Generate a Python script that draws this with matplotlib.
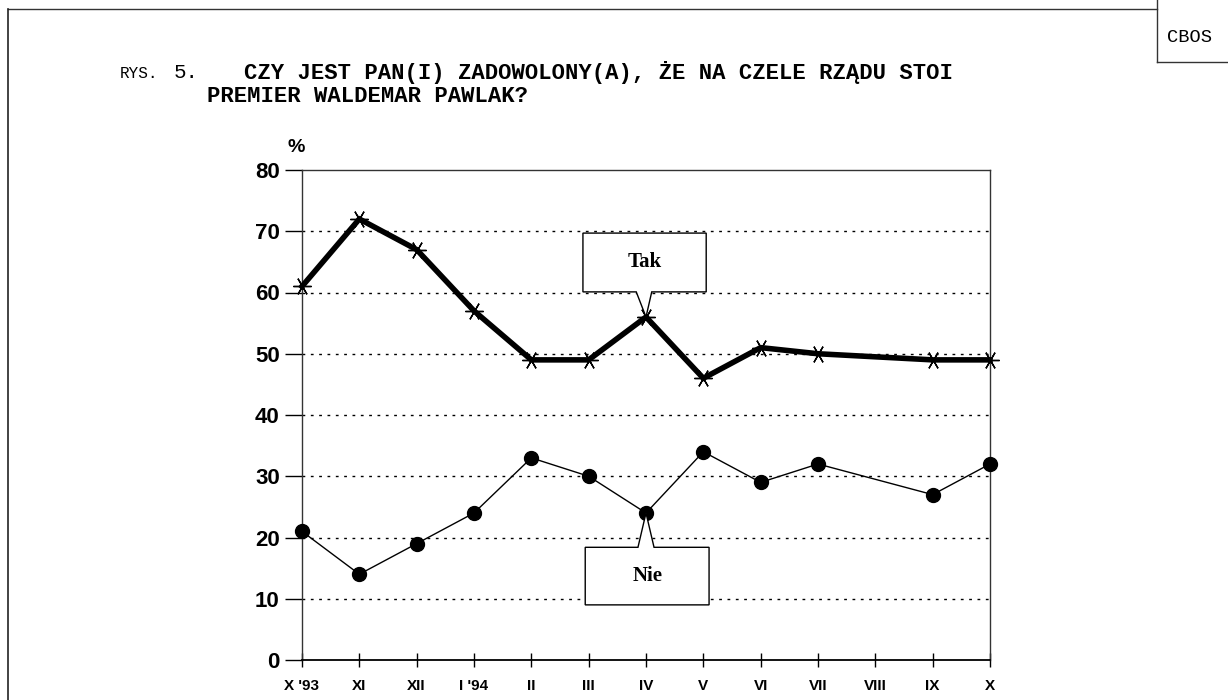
import matplotlib
matplotlib.use("Agg")
import matplotlib.pyplot as plt
import numpy as np
from matplotlib.patches import Polygon
from matplotlib.lines import Line2D

months = ["X '93", "XI", "XII", "I '94", "II", "III", "IV", "V", "VI", "VII", "VIII", "IX", "X"]
tak = [61, 72, 67, 57, 49, 49, 56, 46, 51, 50, np.nan, 49, 49]
nie = [21, 14, 19, 24, 33, 30, 24, 34, 29, 32, np.nan, 27, 32]
yticks = [0, 10, 20, 30, 40, 50, 60, 70, 80]

W, H = 1228, 700
fig = plt.figure(figsize=(W / 100, H / 100), dpi=100)

def fx(px):
    return px / W

def fy(py):
    return 1 - py / H

ax = fig.add_axes([fx(302), fy(660), fx(990) - fx(302), fy(170) - fy(660)])

x = np.arange(len(months))
tak_a = np.array(tak, dtype=float)
nie_a = np.array(nie, dtype=float)
m_t = ~np.isnan(tak_a)
m_n = ~np.isnan(nie_a)

for yv in yticks[1:-1]:
    ax.axhline(yv, color="black", lw=1.0, ls=(0, (2, 4)), zorder=1)

ax.plot(x[m_t], tak_a[m_t], color="black", lw=4.0, marker=(6, 2, 90),
        markersize=13, markeredgewidth=1.0, zorder=4, solid_joinstyle="miter",
        clip_on=False)
ax.plot(x[m_n], nie_a[m_n], color="black", lw=1.0, marker="o",
        markersize=10, zorder=4, clip_on=False)

ax.set_xlim(0, len(months) - 1)
ax.set_ylim(0, 80)
ax.set_yticks(yticks)
ax.set_yticklabels([str(v) for v in yticks], fontsize=16, fontweight="heavy",
                   family="Liberation Sans")
ax.set_xticks(x)
ax.set_xticklabels(months, fontsize=11, fontweight="heavy", family="Liberation Sans")
ax.tick_params(axis="y", direction="out", length=12, width=1, pad=4)
ax.tick_params(axis="x", direction="inout", length=10, width=1, pad=9)
for s in ax.spines.values():
    s.set_linewidth(1.0)
    s.set_color("#333333")
ax.spines["bottom"].set_color("black")
ax.spines["bottom"].set_linewidth(1.3)

# callouts
def callout(label, ix, iy, x0, x1, ya, yb, bx0, bx1, below):
    if below:
        verts = [(x0, ya), (x1, ya), (x1, yb), (bx1, yb), (ix, iy), (bx0, yb), (x0, yb)]
    else:
        verts = [(x0, yb), (x1, yb), (x1, ya), (bx1, ya), (ix, iy), (bx0, ya), (x0, ya)]
    poly = Polygon(verts, closed=True, facecolor="white", edgecolor="black",
                   lw=1.0, zorder=5)
    ax.add_patch(poly)
    ax.text((x0 + x1) / 2, (ya + yb) / 2, label, ha="center", va="center",
            fontsize=15, fontweight="bold", family="Liberation Serif", zorder=6)

callout("Tak", 6, tak[6], 4.90, 7.05, 69.7, 60.1, 5.83, 6.10, True)
callout("Nie", 6, nie[6], 4.94, 7.10, 18.4, 9.0, 5.86, 6.14, False)

ax.text(-0.1, 83.7, "%", fontsize=14, fontweight="heavy", family="Liberation Sans",
        ha="center", va="center")

# title
fig.text(fx(120), fy(73), "RYS.", fontsize=11.5, family="Liberation Mono", va="center")
fig.text(fx(174), fy(72), "5.", fontsize=15, family="Liberation Mono", va="center")
fig.text(fx(244), fy(73), "CZY JEST PAN(I) ZADOWOLONY(A), ŻE NA CZELE RZĄDU STOI",
         fontsize=16, fontweight="bold", family="Liberation Mono", va="center")
fig.text(fx(207), fy(96), "PREMIER WALDEMAR PAWLAK?",
         fontsize=16, fontweight="bold", family="Liberation Mono", va="center")

# frame lines
fig.add_artist(Line2D([fx(8), fx(1157)], [fy(9), fy(9)], color="#333333", lw=1.0))
fig.add_artist(Line2D([fx(8), fx(8)], [fy(9), fy(700)], color="#222222", lw=1.2))
fig.add_artist(Line2D([fx(1157), fx(1157)], [fy(0), fy(62)], color="#333333", lw=1.0))
fig.add_artist(Line2D([fx(1157), fx(1228)], [fy(62), fy(62)], color="#333333", lw=1.0))
fig.text(fx(1190), fy(37), "CBOS", fontsize=13.5, family="Liberation Mono",
         ha="center", va="center")

fig.savefig("out.png", dpi=100)
